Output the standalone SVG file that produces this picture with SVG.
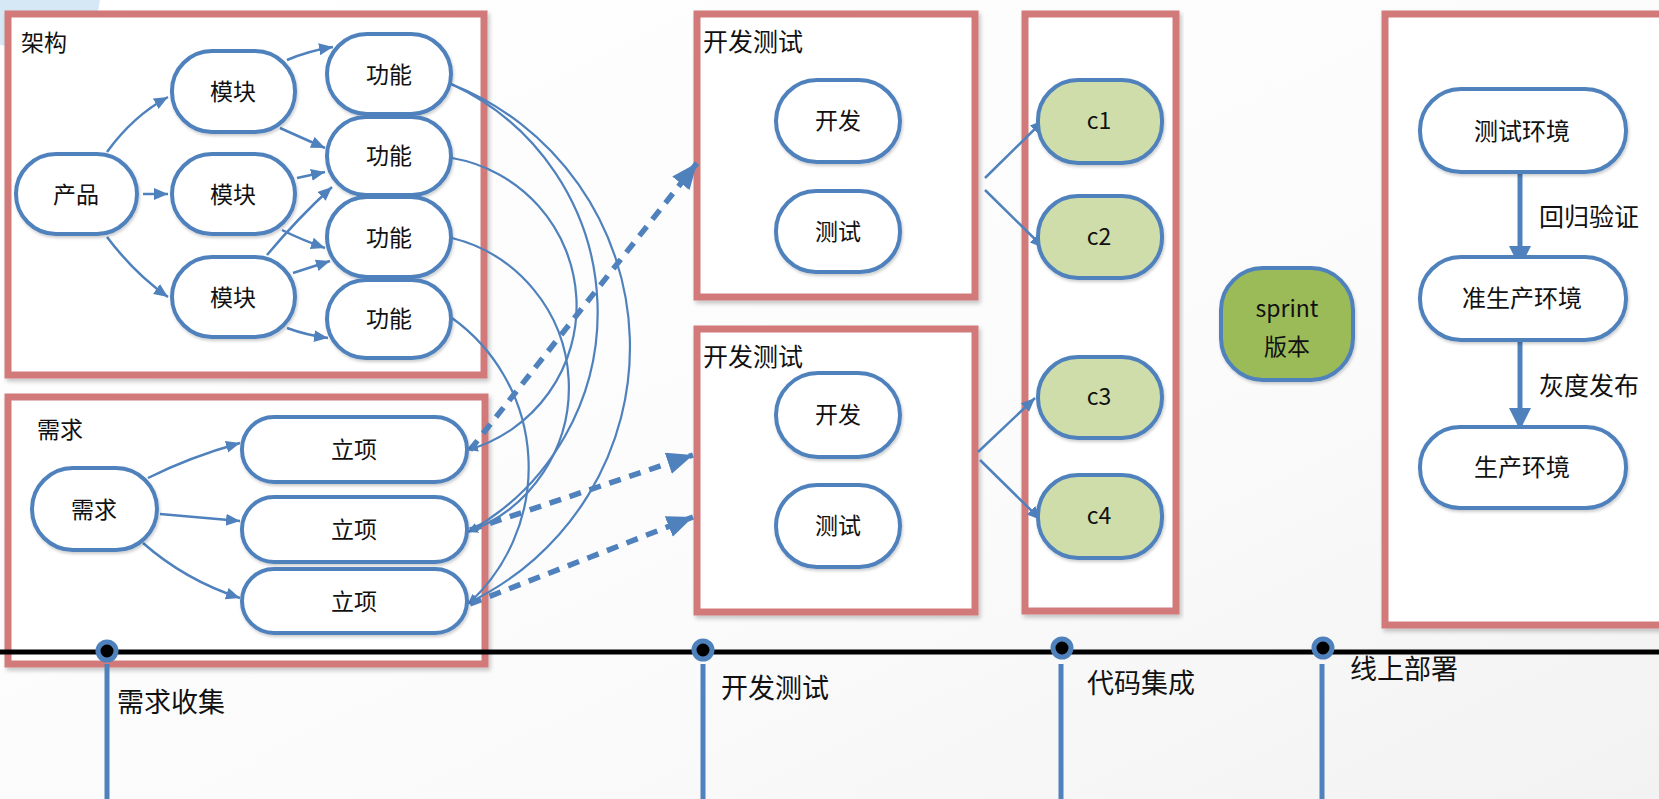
<svg xmlns="http://www.w3.org/2000/svg" width="1659" height="799" viewBox="0 0 1659 799">
<defs>
<style>
.box{fill:#ffffff;stroke:#D27A7A;stroke-width:7;filter:url(#sh)}
.nd{fill:#ffffff;stroke:#4F81BD;stroke-width:4;filter:url(#sh2)}
.gn{fill:#CFDDAB;stroke:#4F81BD;stroke-width:4;filter:url(#sh2)}
.sp{fill:#9BBB59;stroke:#4F81BD;stroke-width:4;filter:url(#sh2)}
.t{font-family:"Noto Sans CJK SC","Noto Sans",sans-serif;fill:#111;text-anchor:middle}
.lb{font-family:"Noto Sans CJK SC","Noto Sans",sans-serif;fill:#111}
.ln{fill:none;stroke:#4F81BD;stroke-width:2.5}
.cv{fill:none;stroke:#4F81BD;stroke-width:2.2}
.ds{fill:none;stroke:#4F81BD;stroke-width:5.5;stroke-dasharray:12 9}
.bg{fill:none;stroke:#4F81BD;stroke-width:5}
</style>
<filter id="sh" x="-5%" y="-5%" width="110%" height="110%"><feDropShadow dx="2" dy="3" stdDeviation="2" flood-color="#000" flood-opacity="0.22"/></filter>
<filter id="sh2" x="-10%" y="-10%" width="120%" height="125%"><feDropShadow dx="1" dy="2" stdDeviation="1.5" flood-color="#000" flood-opacity="0.2"/></filter>
<marker id="a" markerUnits="userSpaceOnUse" markerWidth="16" markerHeight="14" refX="14" refY="6" orient="auto"><path d="M0,0 L14,6 L0,12 Z" fill="#4F81BD"/></marker>
<marker id="as" markerUnits="userSpaceOnUse" markerWidth="12" markerHeight="10" refX="10" refY="4.5" orient="auto"><path d="M0,0 L10,4.5 L0,9 Z" fill="#4F81BD"/></marker>
<marker id="ad" markerUnits="userSpaceOnUse" markerWidth="28" markerHeight="24" refX="26" refY="11" orient="auto"><path d="M0,0 L26,11 L0,22 Z" fill="#4F81BD"/></marker>
<marker id="ab" markerUnits="userSpaceOnUse" markerWidth="24" markerHeight="24" refX="22" refY="11" orient="auto"><path d="M0,0 L22,11 L0,22 Z" fill="#4F81BD"/></marker>
<linearGradient id="bgg" x1="0" y1="0" x2="1" y2="1"><stop offset="0" stop-color="#ffffff"/><stop offset="0.6" stop-color="#fbfbfb"/><stop offset="1" stop-color="#f2f2f3"/></linearGradient>
</defs>
<rect x="0" y="0" width="1659" height="799" fill="url(#bgg)"/>
<path d="M0,0 L100,0 L90,55 L0,45 Z" fill="#d6e8f5"/>

<g id="boxes">
<rect id="box-arch" class="box" x="8" y="14" width="476" height="361"/>
<rect id="box-req" class="box" x="8" y="397" width="477" height="267"/>
<rect id="box-dev1" class="box" x="697" y="14" width="278" height="283"/>
<rect id="box-dev2" class="box" x="697" y="329" width="278" height="283"/>
<rect id="box-ci" class="box" x="1025" y="14" width="151" height="597"/>
<rect id="box-deploy" class="box" x="1385" y="14" width="300" height="611"/>
</g>

<g id="timeline">
<line x1="0" y1="652" x2="1659" y2="652" stroke="#000" stroke-width="5"/>
<line x1="107" y1="664" x2="107" y2="799" stroke="#4F81BD" stroke-width="5"/>
<line x1="703" y1="664" x2="703" y2="799" stroke="#4F81BD" stroke-width="5"/>
<line x1="1061" y1="664" x2="1061" y2="799" stroke="#4F81BD" stroke-width="5"/>
<line x1="1322" y1="664" x2="1322" y2="799" stroke="#4F81BD" stroke-width="5"/>
<circle cx="107" cy="651" r="9" fill="#000" stroke="#4F81BD" stroke-width="5"/>
<circle cx="703" cy="650" r="9" fill="#000" stroke="#4F81BD" stroke-width="5"/>
<circle cx="1062" cy="648" r="9" fill="#000" stroke="#4F81BD" stroke-width="5"/>
<circle cx="1323" cy="648" r="9" fill="#000" stroke="#4F81BD" stroke-width="5"/>
<text class="lb" x="117" y="712" font-size="27">需求收集</text>
<text class="lb" x="721" y="698" font-size="27">开发测试</text>
<text class="lb" x="1087" y="693" font-size="27">代码集成</text>
<text class="lb" x="1350" y="679" font-size="27">线上部署</text>
</g>

<g id="labels">
<text class="lb" x="21" y="51" font-size="23">架构</text>
<text class="lb" x="37" y="438" font-size="23">需求</text>
<text class="lb" x="703" y="51" font-size="25">开发测试</text>
<text class="lb" x="703" y="366" font-size="25">开发测试</text>
<text class="lb" x="1539" y="226" font-size="25">回归验证</text>
<text class="lb" x="1539" y="395" font-size="25">灰度发布</text>
</g>

<g id="connectors">
<path class="ln" d="M107,152 Q133,116 168,97" marker-end="url(#a)"/>
<path class="ln" d="M143,194 L168,194" marker-end="url(#a)"/>
<path class="ln" d="M107,237 Q135,274 168,297" marker-end="url(#a)"/>
<path class="ln" d="M287,60 Q308,51 333,47" marker-end="url(#a)"/>
<path class="ln" d="M280,128 Q300,137 325,148" marker-end="url(#a)"/>
<path class="ln" d="M297,178 L325,172" marker-end="url(#a)"/>
<path class="ln" d="M282,230 Q302,240 325,248" marker-end="url(#a)"/>
<path class="ln" d="M267,255 Q298,218 332,187" marker-end="url(#a)"/>
<path class="ln" d="M293,273 L330,261" marker-end="url(#a)"/>
<path class="ln" d="M287,328 Q306,335 328,338" marker-end="url(#a)"/>
<path class="ln" d="M148,478 Q190,457 240,443" marker-end="url(#a)"/>
<path class="ln" d="M160,514 L240,521" marker-end="url(#a)"/>
<path class="ln" d="M143,543 Q185,580 240,598" marker-end="url(#a)"/>
<path class="cv" d="M451,84 A283,283 0 0 1 468,603" marker-end="url(#as)"/>
<path class="cv" d="M451,84 A251,251 0 0 1 468,532" marker-end="url(#as)"/>
<path class="cv" d="M452,158 A150,150 0 0 1 468,450" marker-end="url(#as)"/>
<path class="cv" d="M452,238 A154,154 0 0 1 468,532" marker-end="url(#as)"/>
<path class="cv" d="M452,318 A184,184 0 0 1 468,604" marker-end="url(#as)"/>
<path class="ds" d="M470,450 L697,163" marker-end="url(#ad)"/>
<path class="ds" d="M470,530 L693,455" marker-end="url(#ad)"/>
<path class="ds" d="M470,604 L693,517" marker-end="url(#ad)"/>
<path class="ln" d="M985,178 L1044,120" marker-end="url(#a)"/>
<path class="ln" d="M985,190 L1044,248" marker-end="url(#a)"/>
<path class="ln" d="M978,452 L1035,398" marker-end="url(#a)"/>
<path class="ln" d="M980,460 L1041,520" marker-end="url(#a)"/>
<path class="bg" d="M1520,172 L1520,268" marker-end="url(#ab)"/>
<path class="bg" d="M1520,340 L1520,430" marker-end="url(#ab)"/>
</g>

<g id="n-product"><rect class="nd" x="16" y="154" width="121" height="80" rx="40"/><text class="t" x="76" y="203" font-size="23">产品</text></g>
<g id="n-mod1"><rect class="nd" x="172" y="51" width="123" height="81" rx="40"/><text class="t" x="233" y="100" font-size="23">模块</text></g>
<g id="n-mod2"><rect class="nd" x="172" y="154" width="123" height="80" rx="40"/><text class="t" x="233" y="203" font-size="23">模块</text></g>
<g id="n-mod3"><rect class="nd" x="172" y="257" width="123" height="80" rx="40"/><text class="t" x="233" y="306" font-size="23">模块</text></g>
<g id="n-f1"><rect class="nd" x="327" y="34" width="124" height="80" rx="40"/><text class="t" x="389" y="83" font-size="23">功能</text></g>
<g id="n-f2"><rect class="nd" x="327" y="117" width="124" height="78" rx="39"/><text class="t" x="389" y="164" font-size="23">功能</text></g>
<g id="n-f3"><rect class="nd" x="327" y="197" width="124" height="80" rx="40"/><text class="t" x="389" y="246" font-size="23">功能</text></g>
<g id="n-f4"><rect class="nd" x="327" y="280" width="124" height="78" rx="39"/><text class="t" x="389" y="327" font-size="23">功能</text></g>
<g id="n-req"><rect class="nd" x="32" y="468" width="125" height="82" rx="41"/><text class="t" x="94" y="518" font-size="23">需求</text></g>
<g id="n-p1"><rect class="nd" x="242" y="417" width="225" height="65" rx="32"/><text class="t" x="354" y="458" font-size="23">立项</text></g>
<g id="n-p2"><rect class="nd" x="242" y="497" width="225" height="65" rx="32"/><text class="t" x="354" y="538" font-size="23">立项</text></g>
<g id="n-p3"><rect class="nd" x="242" y="569" width="225" height="64" rx="32"/><text class="t" x="354" y="610" font-size="23">立项</text></g>
<g id="n-dev1"><rect class="nd" x="776" y="80" width="124" height="82" rx="41"/><text class="t" x="838" y="129" font-size="23">开发</text></g>
<g id="n-test1"><rect class="nd" x="776" y="191" width="124" height="81" rx="40"/><text class="t" x="838" y="240" font-size="23">测试</text></g>
<g id="n-dev2"><rect class="nd" x="776" y="373" width="124" height="84" rx="42"/><text class="t" x="838" y="423" font-size="23">开发</text></g>
<g id="n-test2"><rect class="nd" x="776" y="485" width="124" height="82" rx="41"/><text class="t" x="838" y="534" font-size="23">测试</text></g>
<g id="n-c1"><rect class="gn" x="1038" y="80" width="124" height="83" rx="40"/><text class="t" x="1099" y="129" font-size="23">c1</text></g>
<g id="n-c2"><rect class="gn" x="1038" y="196" width="124" height="82" rx="40"/><text class="t" x="1099" y="245" font-size="23">c2</text></g>
<g id="n-c3"><rect class="gn" x="1038" y="357" width="124" height="81" rx="40"/><text class="t" x="1099" y="405" font-size="23">c3</text></g>
<g id="n-c4"><rect class="gn" x="1038" y="475" width="124" height="83" rx="40"/><text class="t" x="1099" y="524" font-size="23">c4</text></g>
<g id="n-sprint"><rect class="sp" x="1221" y="268" width="132" height="112" rx="42"/><text class="t" x="1287" y="317" font-size="23">sprint</text><text class="t" x="1287" y="355" font-size="23">版本</text></g>
<g id="n-testenv"><rect class="nd" x="1420" y="89" width="206" height="83" rx="41"/><text class="t" x="1522" y="140" font-size="24">测试环境</text></g>
<g id="n-preenv"><rect class="nd" x="1420" y="257" width="206" height="83" rx="41"/><text class="t" x="1522" y="307" font-size="24">准生产环境</text></g>
<g id="n-prodenv"><rect class="nd" x="1420" y="427" width="206" height="81" rx="40"/><text class="t" x="1522" y="476" font-size="24">生产环境</text></g>
</svg>
